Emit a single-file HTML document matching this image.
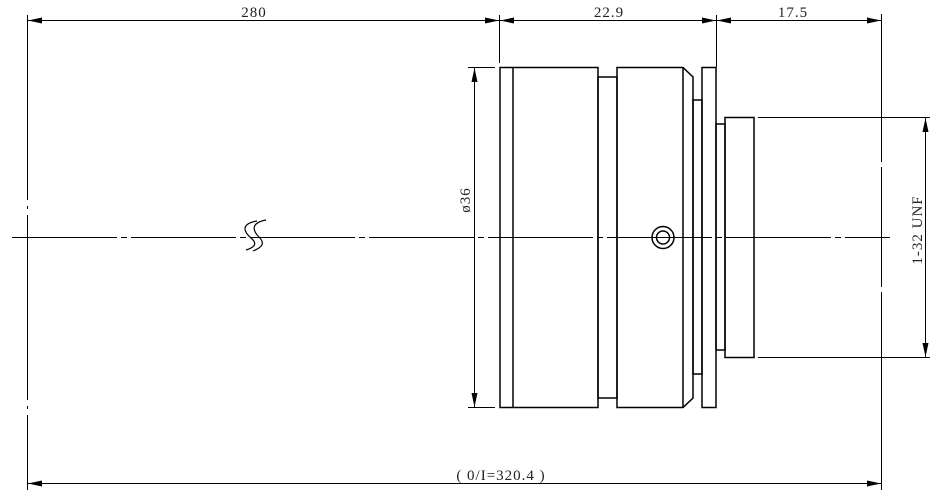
<!DOCTYPE html>
<html><head><meta charset="utf-8"><style>
html,body{margin:0;padding:0;background:#fff;width:943px;height:497px;overflow:hidden}
svg text{font-family:"Liberation Serif","Noto Serif CJK SC",serif;font-size:15px;fill:#222;letter-spacing:1px}
</style></head><body>
<svg width="943" height="497" viewBox="0 0 943 497" xmlns="http://www.w3.org/2000/svg">
<defs>
<marker id="a" viewBox="0 0 14 6" refX="14" refY="3" markerWidth="14" markerHeight="6" orient="auto-start-reverse" markerUnits="userSpaceOnUse"><path d="M0,0 L14,3 L0,6 Z" fill="#000"/></marker>
</defs>
<g stroke="#000" fill="none" stroke-width="1">
<line x1="27.5" y1="15" x2="27.5" y2="490" stroke-dasharray="185,6,3,6"/>
<line x1="881.5" y1="14" x2="881.5" y2="490" stroke-dasharray="148,5,120,5,400"/>
<line x1="499.5" y1="15" x2="499.5" y2="63"/>
<line x1="716.5" y1="15" x2="716.5" y2="67"/>
<line x1="28" y1="20.5" x2="499" y2="20.5" marker-start="url(#a)" marker-end="url(#a)"/>
<line x1="500" y1="20.5" x2="716" y2="20.5" marker-start="url(#a)" marker-end="url(#a)"/>
<line x1="717" y1="20.5" x2="881" y2="20.5" marker-start="url(#a)" marker-end="url(#a)"/>
<line x1="28" y1="483.5" x2="881" y2="483.5" marker-start="url(#a)" marker-end="url(#a)"/>
<line x1="12" y1="237.5" x2="890" y2="237.5" stroke-dasharray="105,4,6,4"/>
<line x1="468" y1="67.5" x2="495" y2="67.5"/>
<line x1="468" y1="407.5" x2="495" y2="407.5"/>
<line x1="474.5" y1="68" x2="474.5" y2="407" marker-start="url(#a)" marker-end="url(#a)"/>
<line x1="758" y1="117.5" x2="930" y2="117.5"/>
<line x1="758" y1="357.5" x2="930" y2="357.5"/>
<line x1="925.5" y1="118" x2="925.5" y2="357" marker-start="url(#a)" marker-end="url(#a)"/>
</g>
<g stroke="#000" fill="none" stroke-width="1.5">
<rect x="500" y="67.5" width="98" height="340"/>
<line x1="513" y1="67.5" x2="513" y2="407.5"/>
<rect x="598" y="77" width="19" height="321"/>
<path d="M617,67.5 H683 L693,77 V398 L683,407.5 H617 Z"/>
<line x1="683" y1="67.5" x2="683" y2="407.5"/>
<rect x="693" y="100" width="9" height="274"/>
<rect x="702" y="67.5" width="14" height="340"/>
<rect x="716" y="124" width="9" height="226"/>
<rect x="725" y="117.5" width="29" height="240"/>
<circle cx="663" cy="237.5" r="11"/>
<circle cx="663" cy="237.5" r="6.5"/>
<path d="M257,221 C240,224 244,232 251,238 C257,243 256,247 246,250" stroke-width="1.2"/>
<path d="M266,220 C250,223 253,231 259,237 C265,243 263,247 253,251" stroke-width="1.2"/>
</g>
<text x="254" y="17" text-anchor="middle">280</text>
<text x="609" y="17" text-anchor="middle">22.9</text>
<text x="793" y="17" text-anchor="middle">17.5</text>
<text x="501" y="480" text-anchor="middle">( 0/I=320.4 )</text>
<text transform="translate(470,200) rotate(-90)" text-anchor="middle">ø36</text>
<text transform="translate(922,230) rotate(-90)" text-anchor="middle">1-32 UNF</text>
</svg>
</body></html>
